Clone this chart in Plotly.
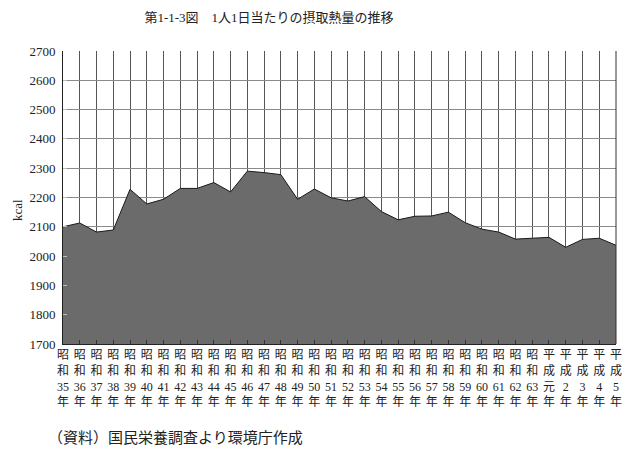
import plotly.graph_objects as go

eras = ["昭和"] * 29 + ["平成"] * 5
years = [str(y) for y in range(35, 64)] + ["元", "2", "3", "4", "5"]
kcal = [2100, 2113, 2082, 2089, 2228, 2178, 2194, 2231, 2231, 2251,
        2219, 2290, 2285, 2278, 2194, 2229, 2199, 2188, 2203, 2152,
        2124, 2136, 2137, 2150, 2114, 2092, 2082, 2058, 2061, 2064,
        2030, 2057, 2061, 2037]
y_ticks = list(range(1700, 2701, 100))

labels = [f"{e[0]}<br>{e[1]}<br>{y}<br>年" for e, y in zip(eras, years)]
xs = list(range(len(kcal)))

font_mix = "Liberation Serif, Noto Sans CJK JP"

W, H = 630, 448  # page body has an 8px margin
fig = go.Figure()
fig.add_trace(go.Scatter(
    x=xs, y=kcal, mode="lines", fill="tozeroy",
    fillcolor="#6b6b6b", line=dict(color="#1a1a1a", width=1),
    hoverinfo="skip", showlegend=False,
))

fig.update_layout(
    width=W, height=H,
    margin=dict(l=55, r=22, t=43, b=112),
    paper_bgcolor="white", plot_bgcolor="white",
    title=dict(text="第1-1-3図　1人1日当たりの摂取熱量の推移",
               x=(269 - 8) / W, xanchor="center", xref="container",
               y=1 - (17 - 8) / H, yanchor="middle", yref="container",
               font=dict(family=font_mix, size=13, color="#222")),
    xaxis=dict(
        range=[0, len(kcal) - 1], tickmode="array", tickvals=xs, ticktext=labels,
        showgrid=True, gridcolor="#555", gridwidth=1,
        ticks="inside", ticklen=4, tickcolor="#333",
        showline=True, linecolor="#222", linewidth=1, mirror=False,
        tickfont=dict(family=font_mix, size=12, color="#222"),
        tickangle=0, zeroline=False, automargin=False,
    ),
    yaxis=dict(
        range=[1700, 2700], tickmode="array", tickvals=y_ticks,
        ticktext=[str(v) for v in y_ticks],
        showgrid=True, gridcolor="#8a8a8a", gridwidth=1,
        ticks="inside", ticklen=4, tickcolor="#bbb",
        showline=True, linecolor="#222", linewidth=1,
        tickfont=dict(family="Liberation Serif", size=13, color="#222"),
        zeroline=False, ticklabelstandoff=4, automargin=False,
    ),
    annotations=[
        dict(text="kcal", xref="paper", yref="paper",
             x=-46 / 553, y=(344 - 210) / 293, xanchor="center", yanchor="middle",
             textangle=-90, showarrow=False,
             font=dict(family="Liberation Serif", size=13, color="#222")),
        dict(text="（資料）国民栄養調査より環境庁作成", xref="paper", yref="paper",
             x=(46 - 63) / 553, y=-(436 - 344) / 293, xanchor="left", yanchor="middle",
             showarrow=False,
             font=dict(family="Noto Sans CJK JP", size=15, color="#222")),
    ],
)

fig.add_shape(type="line", xref="paper", yref="paper", x0=1, x1=1, y0=0, y1=1,
              line=dict(color="#333", width=1))

fig.write_html("out.html")
